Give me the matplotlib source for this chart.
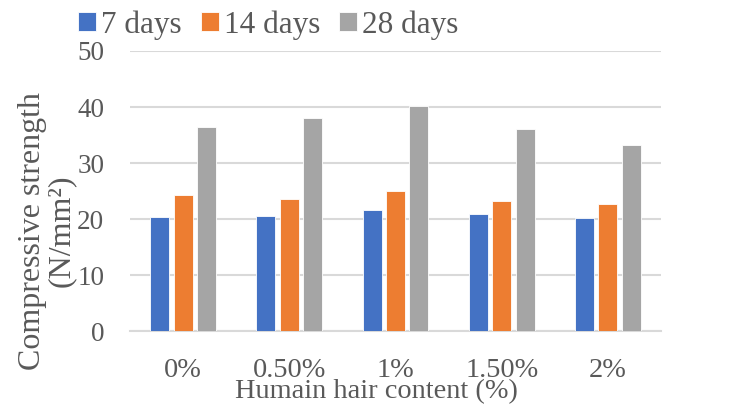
import matplotlib
matplotlib.use("Agg")
import matplotlib.pyplot as plt
import numpy as np

categories = ["0%", "0.50%", "1%", "1.50%", "2%"]
days_7 = [20.4, 20.6, 21.6, 20.9, 20.2]
days_14 = [24.3, 23.6, 25.0, 23.2, 22.7]
days_28 = [36.5, 38.1, 40.2, 36.1, 33.3]
series_names = ["7 days", "14 days", "28 days"]
colors = ["#4472C4", "#ED7D31", "#A5A5A5"]
yticks = [0, 10, 20, 30, 40, 50]

text_color = "#595959"
grid_color = "#D9D9D9"

plt.rcParams["font.family"] = ["Liberation Serif", "DejaVu Serif"]

W, H = 733, 405
fig = plt.figure(figsize=(W / 100, H / 100), dpi=100)
ax = fig.add_axes([130 / W, 1 - 331.3 / H, (661 - 130) / W, (331.3 - 51) / H])

x = np.arange(len(categories))
width = 0.179
step = 0.221
for i, (vals, name, c) in enumerate(zip([days_7, days_14, days_28], series_names, colors)):
    ax.bar(x + (i - 1) * step, vals, width, color=c, label=name, zorder=3,
           edgecolor="white", linewidth=0.6)

ax.set_xlim(-0.5, len(categories) - 0.5)
ax.set_ylim(0, 50)
ax.set_yticks(yticks)
ax.set_xticks(x)
ax.set_xticklabels(categories)
ax.yaxis.grid(True, color=grid_color, linewidth=1.5, zorder=0)
ax.set_axisbelow(True)
for s in ["top", "right", "left"]:
    ax.spines[s].set_visible(False)
ax.spines["bottom"].set_color(grid_color)
ax.spines["bottom"].set_linewidth(1.5)
ax.tick_params(axis="y", length=0, pad=18.5, labelsize=19.5, labelcolor=text_color)
ax.tick_params(axis="x", length=0, pad=19, labelsize=20.4, labelcolor=text_color)

fig.text(376 / W, 7 / H, "Humain hair content (%)", ha="center", va="baseline",
         fontsize=20.4, color=text_color)
fig.text(47 / W, 1 - 231 / H, "Compressive strength\n(N/mm²)", rotation=90,
         ha="center", va="center", multialignment="center",
         fontsize=23, color=text_color, linespacing=1.0)

leg = fig.legend(loc="center left", bbox_to_anchor=(78 / W, 1 - 25 / H), ncol=3,
                 frameon=False, fontsize=22.5, handlelength=0.58, handleheight=0.58,
                 handletextpad=0.16, columnspacing=0.6, borderpad=0, borderaxespad=0)
for t in leg.get_texts():
    t.set_color(text_color)

fig.savefig("out.png", dpi=100)
